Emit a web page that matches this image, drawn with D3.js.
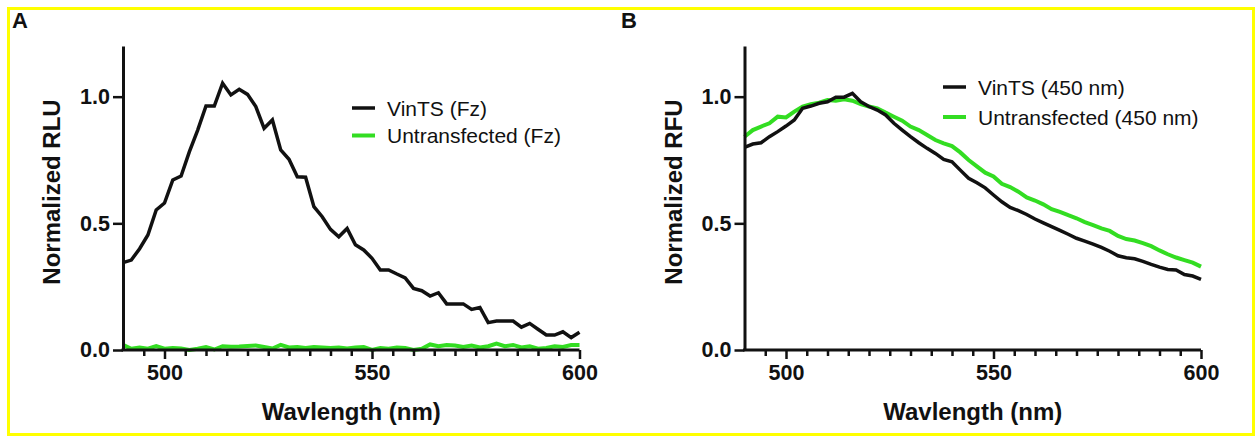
<!DOCTYPE html>
<html>
<head>
<meta charset="utf-8">
<script src="https://cdn.jsdelivr.net/npm/d3@7"></script>
<style>
  body { margin: 0; background: #fff; }
  svg { display: block; font-family: "Liberation Sans", Arial, sans-serif; }
  .tickLabel { font-weight: bold; font-size: 21.5px; fill: #111; }
  .aTitle { font-weight: bold; font-size: 24px; fill: #111; }
  .legendText { font-size: 21px; fill: #111; }
  .panelLetter { font-weight: bold; font-size: 22px; fill: #111; }
</style>
</head>
<body>
<div id="chart"></div>
<script>
// wavelengths, 2 nm steps
var wavelengths = d3.range(490, 601, 2);

// panel A - luminescence (Fz)
var vintsFz = [0.345, 0.355, 0.40, 0.454, 0.553, 0.58, 0.671, 0.687, 0.783, 0.868,
  0.963, 0.963, 1.053, 1.007, 1.029, 1.009, 0.961, 0.875, 0.908, 0.79,
  0.753, 0.684, 0.682, 0.566, 0.526, 0.476, 0.447, 0.48, 0.415, 0.395,
  0.362, 0.316, 0.316, 0.30, 0.285, 0.243, 0.234, 0.213, 0.226, 0.182,
  0.182, 0.182, 0.16, 0.168, 0.108, 0.114, 0.114, 0.114, 0.09, 0.105,
  0.082, 0.059, 0.059, 0.072, 0.049, 0.07];
var untransFz = [0.02, 0.005, 0.01, 0.005, 0.015, 0.005, 0.008, 0.006, 0.0, 0.005,
  0.012, 0.002, 0.015, 0.013, 0.014, 0.016, 0.018, 0.012, 0.006, 0.02,
  0.01, 0.012, 0.008, 0.012, 0.01, 0.008, 0.01, 0.006, 0.01, 0.012,
  0.0, 0.008, 0.005, 0.01, 0.008, 0.0, 0.005, 0.022, 0.015, 0.02,
  0.018, 0.012, 0.018, 0.01, 0.015, 0.025, 0.015, 0.02, 0.01, 0.015,
  0.005, 0.008, 0.015, 0.012, 0.02, 0.02];

// panel B - fluorescence (450 nm)
var vints450 = [0.80, 0.813, 0.818, 0.842, 0.862, 0.884, 0.908, 0.954, 0.963, 0.974,
  0.98, 0.998, 0.998, 1.013, 0.98, 0.961, 0.947, 0.928, 0.895, 0.868,
  0.842, 0.818, 0.796, 0.776, 0.752, 0.743, 0.71, 0.678, 0.66, 0.64,
  0.612, 0.585, 0.563, 0.55, 0.535, 0.517, 0.502, 0.487, 0.472, 0.457,
  0.441, 0.43, 0.418, 0.405, 0.39, 0.372, 0.364, 0.36, 0.35, 0.338,
  0.327, 0.318, 0.316, 0.298, 0.292, 0.279];
var untrans450 = [0.842, 0.868, 0.882, 0.895, 0.921, 0.918, 0.941, 0.961, 0.97, 0.976,
  0.987, 0.984, 0.99, 0.984, 0.971, 0.961, 0.954, 0.937, 0.921, 0.905,
  0.882, 0.868, 0.849, 0.829, 0.816, 0.805, 0.78, 0.75, 0.725, 0.70,
  0.685, 0.656, 0.643, 0.625, 0.602, 0.59, 0.575, 0.556, 0.545, 0.532,
  0.52, 0.505, 0.493, 0.48, 0.47, 0.45, 0.438, 0.432, 0.422, 0.41,
  0.393, 0.378, 0.365, 0.355, 0.345, 0.329];

var xMajorTicks = [500, 550, 600];
var xMinorTicks = d3.range(495, 600, 5).filter(function (v) { return v % 50 !== 0; });
var yTicks = [0.0, 0.5, 1.0];

var svgWidth = 1258;
var svgHeight = 436;
var black = "#111111";
var green = "#33dd22";

var svg = d3.select("#chart")
    .append("svg")
    .attr("width", svgWidth)
    .attr("height", svgHeight);

// yellow frame
svg.append("rect")
    .attr("x", 8.5)
    .attr("y", 8.5)
    .attr("width", 1245)
    .attr("height", 426)
    .attr("fill", "none")
    .attr("stroke", "#ffff00")
    .attr("stroke-width", 3);

var panels = [
  {
    letter: "A", letterX: 12, left: 123, right: 579.5,
    yTitle: "Normalized RLU",
    series: [
      { name: "VinTS (Fz)", values: vintsFz, color: black, width: 3.5 },
      { name: "Untransfected (Fz)", values: untransFz, color: green, width: 4 }
    ],
    legendX: 352, legendY: 108, legendStep: 27.5
  },
  {
    letter: "B", letterX: 621, left: 744.5, right: 1201,
    yTitle: "Normalized RFU",
    series: [
      { name: "VinTS (450 nm)", values: vints450, color: black, width: 3.5 },
      { name: "Untransfected (450 nm)", values: untrans450, color: green, width: 4 }
    ],
    legendX: 943, legendY: 87, legendStep: 30
  }
];

var plotTop = 46, plotBottom = 350;

panels.forEach(function (p) {
    var x = d3.scaleLinear().domain([490, 600]).range([p.left, p.right]);
    var y = d3.scaleLinear().domain([0, 1.2]).range([plotBottom, plotTop]);

    var g = svg.append("g");

    // data lines
    p.series.slice().reverse().forEach(function (s) {
        var line = d3.line()
            .x(function (d, i) { return x(wavelengths[i]); })
            .y(function (d) { return y(d); });
        g.append("path")
            .datum(s.values)
            .attr("d", line)
            .attr("fill", "none")
            .attr("stroke", s.color)
            .attr("stroke-width", s.width)
            .attr("stroke-linejoin", "miter");
    });

    // x axis: minor then major ticks
    var minorAxis = d3.axisBottom(x).tickValues(xMinorTicks).tickSize(6).tickFormat("");
    var majorAxis = d3.axisBottom(x).tickValues(xMajorTicks).tickSize(9).tickSizeOuter(0).tickPadding(6);
    var gxMinor = g.append("g").attr("transform", "translate(0," + plotBottom + ")").call(minorAxis);
    var gx = g.append("g").attr("transform", "translate(0," + plotBottom + ")").call(majorAxis);
    gxMinor.select(".domain").remove();
    [gxMinor, gx].forEach(function (a) {
        a.selectAll("line").attr("stroke", black).attr("stroke-width", 2.5);
    });
    gx.select(".domain").attr("stroke", black).attr("stroke-width", 3)
        .attr("d", "M" + (p.left - 1.5) + ",0H" + p.right);
    gx.selectAll("text").attr("class", "tickLabel").attr("font-size", null).attr("font-family", null).attr("fill", null);

    // y axis
    var leftAxis = d3.axisLeft(y).tickValues(yTicks).tickSize(10).tickSizeOuter(0).tickPadding(3)
        .tickFormat(d3.format(".1f"));
    var gy = g.append("g").attr("transform", "translate(" + p.left + ",0)").call(leftAxis);
    gy.select(".domain").attr("stroke", black).attr("stroke-width", 3);
    gy.selectAll("line").attr("stroke", black).attr("stroke-width", 2.5);
    gy.selectAll("text").attr("class", "tickLabel").attr("font-size", null).attr("font-family", null).attr("fill", null);

    // axis titles
    g.append("text")
        .attr("class", "aTitle")
        .attr("text-anchor", "middle")
        .attr("x", (p.left + p.right) / 2)
        .attr("y", 420)
        .text("Wavlength (nm)");
    g.append("text")
        .attr("class", "aTitle")
        .attr("text-anchor", "middle")
        .attr("transform", "translate(" + (p.left - 63) + "," + 192 + ") rotate(-90)")
        .text(p.yTitle);

    // panel letter
    g.append("text")
        .attr("class", "panelLetter")
        .attr("x", p.letterX)
        .attr("y", 28)
        .text(p.letter);

    // legend
    p.series.forEach(function (s, i) {
        var ly = p.legendY + i * p.legendStep;
        g.append("line")
            .attr("x1", p.legendX).attr("x2", p.legendX + 23)
            .attr("y1", ly).attr("y2", ly)
            .attr("stroke", s.color)
            .attr("stroke-width", s.width);
        g.append("text")
            .attr("class", "legendText")
            .attr("x", p.legendX + 35)
            .attr("y", ly + 7.5)
            .text(s.name);
    });
});
</script>
</body>
</html>
